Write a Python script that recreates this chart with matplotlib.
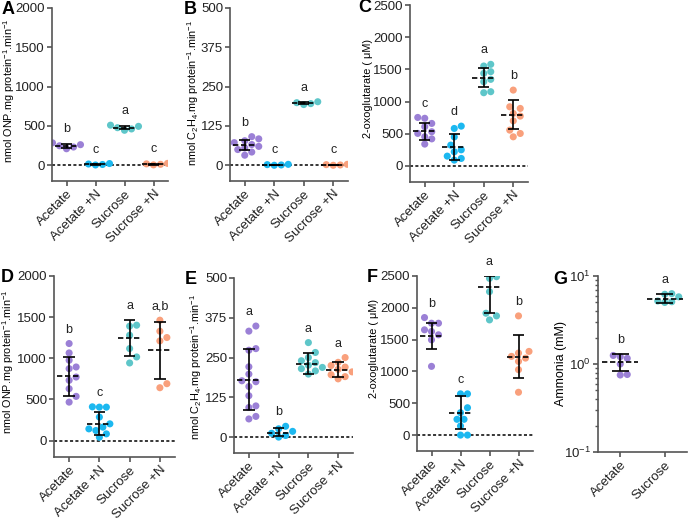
import numpy as np
import matplotlib
matplotlib.use('Agg')
import matplotlib.pyplot as plt

plt.rcParams['font.family'] = ['Liberation Sans', 'DejaVu Sans']
plt.rcParams['mathtext.fontset'] = 'custom'
plt.rcParams['mathtext.rm'] = 'Liberation Sans'
plt.rcParams['mathtext.it'] = 'Liberation Sans:italic'
plt.rcParams['mathtext.bf'] = 'Liberation Sans:bold'

# Datos
grupos4 = ['Acetate', 'Acetate +N', 'Sucrose', 'Sucrose +N']
grupos2 = ['Acetate', 'Sucrose']
colores4 = ['#9b80d6', '#1cb8f0', '#5ec6c9', '#f9a07c']
colores2 = ['#9b80d6', '#5ec6c9']

# A
a_pts = [[210, 232, 248, 262, 285],
         [4, 10, 16, 22],
         [445, 462, 478, 495, 510],
         [5, 12, 18, 24]]
a_mid = [246, 12, 475, 13]
a_lo = [225, 5, 455, 6]
a_hi = [276, 18, 500, 20]
a_let = ['b', 'c', 'a', 'c']

# B
b_pts = [[32, 42, 50, 55, 60, 66, 72, 78, 84, 91],
         [0, 1, 2, 3],
         [193, 196, 199, 202],
         [0, 1, 2, 3]]
b_mid = [63, 1, 197, 1]
b_lo = [48, 0, 194, 0]
b_hi = [80, 2, 200, 2]
b_let = ['b', 'c', 'a', 'c']

# C
c_pts = [[753, 740, 660, 609, 531, 505, 453, 420, 339],
         [618, 582, 450, 323, 250, 219, 152, 116, 90],
         [1578, 1552, 1464, 1438, 1345, 1308, 1153, 1137],
         [1178, 919, 893, 815, 774, 700, 556, 504, 452]]
c_mid = [540, 296, 1369, 789]
c_lo = [410, 89, 1220, 566]
c_hi = [669, 489, 1515, 1022]
c_let = ['c', 'd', 'a', 'b']

# D
d_pts = [[1179, 1065, 976, 894, 874, 772, 732, 630, 537, 467],
         [406, 410, 406, 285, 203, 163, 142, 122, 81, 40],
         [1402, 1390, 1280, 1118, 1016, 943],
         [1463, 1329, 1252, 1211, 691, 642]]
d_mid = [780, 207, 1248, 1101]
d_lo = [537, 70, 1024, 752]
d_hi = [1016, 350, 1463, 1443]
d_let = ['b', 'c', 'a', 'a,b']

# E
e_pts = [[349, 333, 278, 273, 221, 198, 177, 174, 159, 130, 98, 93, 65, 57],
         [0, 5, 12, 18, 26, 34],
         [297, 266, 250, 240, 234, 226, 219, 215, 208, 198],
         [250, 235, 225, 220, 213, 205, 196, 190, 183]]
e_mid = [180, 13, 231, 211]
e_lo = [85, 2, 198, 189]
e_hi = [276, 28, 263, 236]
e_let = ['a', 'b', 'a', 'a']

# F
f_pts = [[1847, 1758, 1758, 1654, 1628, 1576, 1497, 1080],
         [648, 648, 430, 352, 248, 248, 143, 0, 0],
         [2489, 2463, 2254, 1915, 1873, 1810],
         [1873, 1315, 1289, 1237, 1210, 1158, 1028, 673]]
f_mid = [1560, 350, 2332, 1227]
f_lo = [1352, 100, 1915, 892]
f_hi = [1768, 610, 2500, 1576]
f_let = ['b', 'c', 'a', 'b']

# G
g_pts = [[1.25, 1.21, 1.16, 0.76, 0.75, 1.0],
         [6.3, 6.2, 5.8, 5.1, 5.0, 5.2]]
g_mid = [1.06, 5.5]
g_lo = [0.83, 4.95]
g_hi = [1.30, 6.3]
g_let = ['b', 'a']

lbl_onp = 'nmol ONP.mg protein$^{-1}$.min$^{-1}$'
lbl_c2h4 = 'nmol C$_2$H$_4$.mg protein$^{-1}$.min$^{-1}$'
lbl_oxo = '2-oxoglutarate ( μM)'
lbl_amm = 'Ammonia (mM)'

W, H = 688, 526
GRIS = '#555555'


def rect(l, t, r, b):
    return [l / W, 1 - b / H, (r - l) / W, (b - t) / H]


def enjambre(ax, xc, vals, d=7.0, paso=3.5):
    # separa los puntos a los lados para que no se tapen (en pixeles)
    px = ax.transData.transform([(xc, v) for v in vals])
    ux = ax.transData.transform((1, 0))[0] - ax.transData.transform((0, 0))[0]
    orden = np.argsort(vals)
    puestos = []
    offs = np.zeros(len(vals))
    for i in orden:
        y = px[i, 1]
        for k in [0, 1, -1, 2, -2, 3, -3, 4, -4, 5, -5, 6, -6]:
            dx = k * paso
            if all((dx - ox) ** 2 + (y - oy) ** 2 >= d ** 2 for ox, oy in puestos):
                break
        puestos.append((dx, y))
        offs[i] = dx / ux
    return xc + offs


def panel(r, pts, mid, lo, hi, letras, colores, nombres, ylim, yticks, ylabel,
          lblpos, log=False, ylsize=7.8):
    ax = fig.add_axes(rect(*r))
    n = len(nombres)
    ax.set_xlim(-0.5, n - 0.5)
    if log:
        ax.set_yscale('log')
    ax.set_ylim(*ylim)
    if yticks is not None:
        ax.set_yticks(yticks)
    for i in range(n):
        xs = enjambre(ax, i, pts[i])
        ax.scatter(xs, pts[i], s=26, color=colores[i], edgecolors='none', zorder=2)
        ax.vlines(i, lo[i], hi[i], color='black', lw=1.2, zorder=3)
        ax.hlines([lo[i], hi[i]], i - 0.19, i + 0.19, color='black', lw=1.2, zorder=3)
        ax.hlines(mid[i], i - 0.4, i + 0.4, color='black', lw=1.2,
                  linestyles=(0, (3.2, 1.6)), zorder=3)
        tope = max(max(pts[i]), hi[i])
        ax.annotate(letras[i], (i, tope), xytext=(0, 10), textcoords='offset points',
                    ha='center', va='center', fontsize=9, color='#222222')
    if not log:
        ax.axhline(0, color='black', lw=1.1, ls=(0, (2, 1.5)), zorder=1)
    ax.set_xticks(range(n))
    ax.set_xticklabels(nombres, rotation=45, ha='right', rotation_mode='anchor')
    ax.set_ylabel(ylabel, fontsize=ylsize)
    # borde derecho del texto del eje y, en pixeles de la figura
    ax.yaxis.set_label_coords((lblpos[0] - r[0]) / (r[2] - r[0]),
                              (r[3] - lblpos[1]) / (r[3] - r[1]))
    for s in ['top', 'right']:
        ax.spines[s].set_visible(False)
    for s in ['left', 'bottom']:
        ax.spines[s].set_color(GRIS)
        ax.spines[s].set_linewidth(1.2)
    ax.tick_params(axis='both', colors=GRIS, labelcolor='#222222', labelsize=9.5,
                   width=1.2, length=3.5, pad=1.5)
    ax.tick_params(axis='y', which='minor', colors=GRIS, width=1, length=2.5)
    return ax


fig = plt.figure(figsize=(W / 100, H / 100), dpi=100)

panel((52, 8, 168, 181), a_pts, a_mid, a_lo, a_hi, a_let, colores4, grupos4,
      (-200, 2000), [0, 500, 1000, 1500, 2000], lbl_onp, (17, 91))
panel((230, 8, 348, 181), b_pts, b_mid, b_lo, b_hi, b_let, colores4, grupos4,
      (-50, 500), [0, 125, 250, 375, 500], lbl_c2h4, (201, 93))
panel((410, 5, 528, 182), c_pts, c_mid, c_lo, c_hi, c_let, colores4, grupos4,
      (-250, 2500), [0, 500, 1000, 1500, 2000, 2500], lbl_oxo, (373, 88))
panel((54, 276, 175, 457), d_pts, d_mid, d_lo, d_hi, d_let, colores4, grupos4,
      (-200, 2000), [0, 500, 1000, 1500, 2000], lbl_onp, (16, 362))
panel((234, 278, 353, 453), e_pts, e_mid, e_lo, e_hi, e_let, colores4, grupos4,
      (-50, 500), [0, 125, 250, 375, 500], lbl_c2h4, (204, 367))
panel((417, 276, 533, 451), f_pts, f_mid, f_lo, f_hi, f_let, colores4, grupos4,
      (-250, 2500), [0, 500, 1000, 1500, 2000, 2500], lbl_oxo, (379, 348))
panel((598, 276, 687, 452), g_pts, g_mid, g_lo, g_hi, g_let, colores2, grupos2,
      (0.1, 10), None, lbl_amm, (567, 364), log=True, ylsize=9)

# letras de los paneles
for letra, x, y in [('A', 2, 9), ('B', 184, 9), ('C', 358, 7), ('D', 1, 278),
                    ('E', 185, 280), ('F', 367, 278), ('G', 553, 279)]:
    fig.text(x / W, 1 - y / H, letra, fontsize=13, fontweight='bold', va='center', ha='left')

fig.savefig('out.png', dpi=100)
